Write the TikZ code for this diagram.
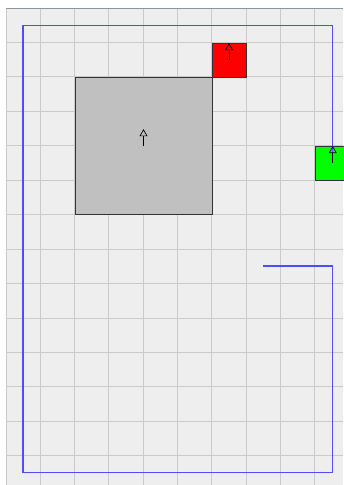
\documentclass[tikz,border=0pt]{standalone}
\usetikzlibrary{arrows.meta}
\definecolor{bgc}{HTML}{EEEEEE}
\definecolor{gridc}{HTML}{CACACA}
\definecolor{topc}{HTML}{8A96A0}
\definecolor{boxgray}{HTML}{C0C0C0}
\definecolor{pathblue}{HTML}{4D4DFF}
\tikzset{
  gridline/.style={gridc, line width=1pt},
  square/.style={draw=black!80, line width=0.9pt, minimum size=34pt, inner sep=0pt, outer sep=0pt},
  uparrow/.style={line width=0.7pt, -{Triangle[open,width=8pt,length=7pt]}},
  route/.style={pathblue, line width=1.1pt}
}
\begin{document}
\begin{tikzpicture}[x=1pt,y=-1pt]
\useasboundingbox (0,0) rectangle (343,485);
\fill[white] (0,0) rectangle (343,485);
\fill[bgc] (6,8) rectangle (343,485);
% grid
\foreach \k in {0,...,9} {
  \draw[gridline] ({6+34.33*\k},8) -- ({6+34.33*\k},485);
}
\foreach \k in {1,...,13} {
  \draw[gridline] (6,{8+34.45*\k}) -- (343,{8+34.45*\k});
}
\draw[topc, line width=1pt] (6,8) -- (343,8);
% squares
\node[square, fill=boxgray, minimum size=137pt] (big) at (143.5,146.2) {};
\node[square, fill=red] (red) at (229,60.2) {};
\node[square, fill=green] (green) at (332.7,163) {};
% blue route
\coordinate (r0) at (263.3,266);
\draw[route] (r0) -- (332.7,266) -- (332.7,472.7) -- (23,472.7) -- (23,25.7) -- (332.7,25.7) -- (green.center);
% arrows
\coordinate (bt) at ([yshift=17pt]big.center);
\coordinate (rt) at ([yshift=17pt]red.center);
\coordinate (gt) at ([yshift=17pt]green.center);
\draw[uparrow] (big.center) -- (bt);
\draw[uparrow] (red.center) -- (rt);
\draw[uparrow] (green.center) -- (gt);
\end{tikzpicture}
\end{document}
